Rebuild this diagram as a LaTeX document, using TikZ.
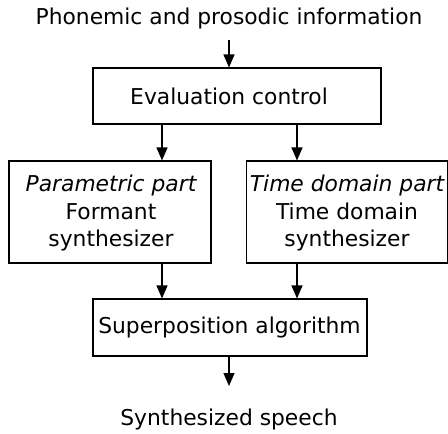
\documentclass[tikz,border=0pt]{standalone}
\usepackage{fontspec}
\setmainfont{DejaVu Sans}
\usetikzlibrary{arrows.meta}
\begin{document}
\begin{tikzpicture}[x=1pt,y=-1pt,
  box/.style={draw, line width=1.1pt, inner sep=0pt},
  lbl/.style={font=\fontsize{21.8}{27.5}\selectfont, align=center, inner sep=0pt},
  arr/.style={line width=1.1pt, -{Triangle[width=11pt,length=13pt]}}]
\useasboundingbox (0,0) rectangle (448,434);
\node[lbl] (top) at (229,18) {Phonemic and prosodic information};
\node[box, minimum width=288pt, minimum height=56pt] (eval) at (237,96) {};
\node[lbl] (evalt) at (229,96) {Evaluation control};
\node[box, minimum width=202pt, minimum height=102pt] (par) at (110,212) {};
\node[lbl] (part) at (111,213) {\itshape Parametric part\\Formant\\synthesizer};
\node[box, minimum width=201pt, minimum height=102pt] (tdp) at (347,212) {};
\node[lbl] (tdpt) at (347,213) {\itshape Time domain part\\Time domain\\synthesizer};
\node[box, minimum width=274pt, minimum height=57pt] (sup) at (230,327.5) {};
\node[lbl] (supt) at (229.5,327.5) {Superposition algorithm};
\node[lbl] (out) at (229,419) {Synthesized speech};
\coordinate (a0) at (229,40);
\draw[arr] (a0) -- (eval.north -| a0);
\draw[arr] (eval.south -| 162,0) -- (par.north -| 162,0);
\draw[arr] (eval.south -| 297,0) -- (tdp.north -| 297,0);
\draw[arr] (par.south -| 162,0) -- (sup.north -| 162,0);
\draw[arr] (tdp.south -| 297,0) -- (sup.north -| 297,0);
\coordinate (a1) at (229,386);
\draw[arr] (sup.south -| a1) -- (a1);
\end{tikzpicture}
\end{document}
